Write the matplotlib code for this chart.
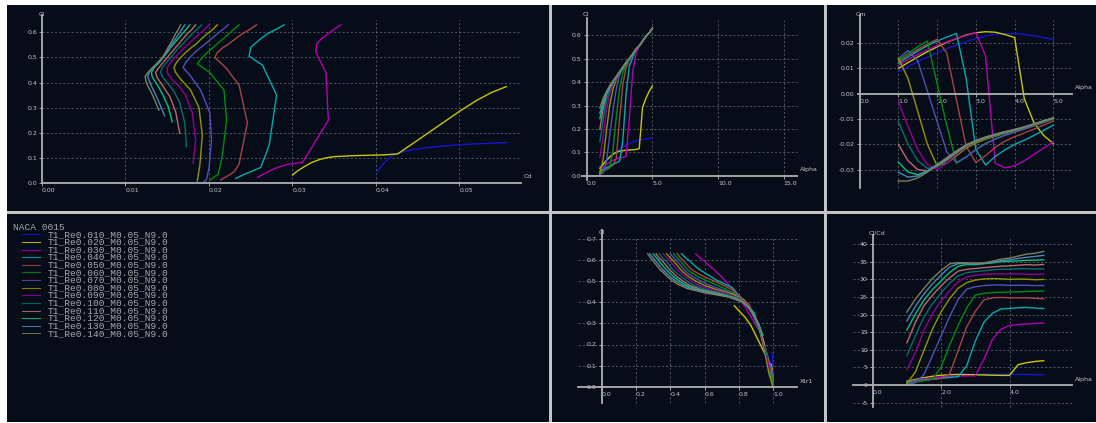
import matplotlib.pyplot as plt

W, H = 1096, 423

# ---- data (NACA 0015, 14 polars) ----
alpha = [1.0, 1.25, 1.5, 1.75, 2.0, 2.25, 2.5, 2.75, 3.0, 3.25, 3.5, 3.75, 4.0, 4.25, 4.5, 4.75, 5.0]

polar_names = ['T1_Re0.010_M0.05_N9.0', 'T1_Re0.020_M0.05_N9.0', 'T1_Re0.030_M0.05_N9.0',
               'T1_Re0.040_M0.05_N9.0', 'T1_Re0.050_M0.05_N9.0', 'T1_Re0.060_M0.05_N9.0',
               'T1_Re0.070_M0.05_N9.0', 'T1_Re0.080_M0.05_N9.0', 'T1_Re0.090_M0.05_N9.0',
               'T1_Re0.100_M0.05_N9.0', 'T1_Re0.110_M0.05_N9.0', 'T1_Re0.120_M0.05_N9.0',
               'T1_Re0.130_M0.05_N9.0', 'T1_Re0.140_M0.05_N9.0']

colors = ['#1414d2', '#c8c800', '#b400b4', '#00acac', '#a84444', '#008c10', '#5050b8',
          '#949400', '#940094', '#007070', '#bc6a6a', '#00c47c', '#4a86bc', '#80805a']

cl = [
    [0.0385, 0.052, 0.065, 0.078, 0.090, 0.102, 0.112, 0.122, 0.131, 0.138, 0.144, 0.148, 0.152, 0.155, 0.157, 0.159, 0.161],
    [0.032, 0.048, 0.065, 0.080, 0.092, 0.100, 0.105, 0.107, 0.109, 0.110, 0.111, 0.112, 0.116, 0.290, 0.330, 0.360, 0.384],
    [0.022, 0.035, 0.047, 0.058, 0.066, 0.072, 0.076, 0.079, 0.082, 0.250, 0.440, 0.520, 0.555, 0.575, 0.595, 0.610, 0.630],
    [0.018, 0.026, 0.034, 0.041, 0.048, 0.055, 0.062, 0.150, 0.350, 0.470, 0.505, 0.540, 0.555, 0.575, 0.595, 0.610, 0.630],
    [0.012, 0.020, 0.028, 0.036, 0.044, 0.075, 0.240, 0.390, 0.460, 0.500, 0.520, 0.540, 0.555, 0.575, 0.595, 0.610, 0.630],
    [0.010, 0.018, 0.026, 0.034, 0.110, 0.250, 0.370, 0.440, 0.475, 0.500, 0.520, 0.540, 0.555, 0.575, 0.595, 0.610, 0.630],
    [0.005, 0.013, 0.060, 0.170, 0.280, 0.370, 0.430, 0.460, 0.480, 0.500, 0.520, 0.540, 0.555, 0.575, 0.595, 0.610, 0.630],
    [0.008, 0.070, 0.190, 0.300, 0.370, 0.410, 0.440, 0.460, 0.480, 0.500, 0.520, 0.540, 0.555, 0.575, 0.595, 0.610, 0.630],
    [0.078, 0.170, 0.280, 0.350, 0.390, 0.415, 0.440, 0.460, 0.480, 0.500, 0.520, 0.540, 0.555, 0.575, 0.595, 0.610, 0.630],
    [0.145, 0.240, 0.320, 0.365, 0.395, 0.420, 0.440, 0.460, 0.480, 0.500, 0.520, 0.540, 0.555, 0.575, 0.595, 0.610, 0.630],
    [0.198, 0.285, 0.345, 0.375, 0.400, 0.420, 0.440, 0.460, 0.480, 0.500, 0.520, 0.540, 0.555, 0.575, 0.595, 0.610, 0.630],
    [0.244, 0.305, 0.350, 0.380, 0.402, 0.422, 0.442, 0.462, 0.482, 0.500, 0.520, 0.540, 0.555, 0.575, 0.595, 0.610, 0.630],
    [0.267, 0.315, 0.352, 0.380, 0.403, 0.424, 0.445, 0.465, 0.485, 0.500, 0.520, 0.540, 0.555, 0.575, 0.595, 0.610, 0.630],
    [0.290, 0.330, 0.360, 0.385, 0.405, 0.425, 0.445, 0.465, 0.485, 0.500, 0.520, 0.540, 0.555, 0.575, 0.595, 0.610, 0.630],
]

cd = [
    [0.0401, 0.0403, 0.0406, 0.0409, 0.0413, 0.0417, 0.0421, 0.0430, 0.0441, 0.0455, 0.0470, 0.0484, 0.0499, 0.0513, 0.0527, 0.0541, 0.0556],
    [0.0300, 0.0306, 0.0314, 0.0322, 0.0331, 0.0340, 0.0350, 0.0362, 0.0374, 0.0386, 0.0398, 0.0410, 0.0426, 0.0502, 0.0521, 0.0538, 0.0556],
    [0.0258, 0.0265, 0.0272, 0.0279, 0.0286, 0.0292, 0.0298, 0.0305, 0.0312, 0.0343, 0.0340, 0.0328, 0.0329, 0.0335, 0.0343, 0.0349, 0.0358],
    [0.0232, 0.0237, 0.0242, 0.0247, 0.0252, 0.0257, 0.0262, 0.0272, 0.0281, 0.0264, 0.0248, 0.0250, 0.0255, 0.0262, 0.0270, 0.0279, 0.0290],
    [0.0214, 0.0218, 0.0222, 0.0226, 0.0230, 0.0236, 0.0246, 0.0236, 0.0220, 0.0207, 0.0210, 0.0217, 0.0224, 0.0232, 0.0240, 0.0248, 0.0257],
    [0.0201, 0.0204, 0.0207, 0.0211, 0.0216, 0.0221, 0.0218, 0.0201, 0.0186, 0.0192, 0.0198, 0.0205, 0.0210, 0.0217, 0.0224, 0.0229, 0.0236],
    [0.0194, 0.0197, 0.0200, 0.0203, 0.0201, 0.0190, 0.0177, 0.0169, 0.0172, 0.0177, 0.0183, 0.0190, 0.0196, 0.0203, 0.0210, 0.0216, 0.0223],
    [0.0186, 0.0189, 0.0192, 0.0188, 0.0178, 0.0167, 0.0160, 0.0158, 0.0161, 0.0166, 0.0172, 0.0179, 0.0185, 0.0191, 0.0198, 0.0204, 0.0210],
    [0.0181, 0.0184, 0.0180, 0.0172, 0.0163, 0.0155, 0.0150, 0.0150, 0.0154, 0.0159, 0.0165, 0.0171, 0.0176, 0.0182, 0.0189, 0.0194, 0.0200],
    [0.0173, 0.0171, 0.0165, 0.0158, 0.0151, 0.0145, 0.0142, 0.0144, 0.0149, 0.0154, 0.0159, 0.0164, 0.0169, 0.0174, 0.0180, 0.0185, 0.0191],
    [0.0165, 0.0160, 0.0153, 0.0147, 0.0142, 0.0138, 0.0136, 0.0140, 0.0145, 0.0150, 0.0155, 0.0160, 0.0164, 0.0169, 0.0174, 0.0179, 0.0184],
    [0.0156, 0.0151, 0.0145, 0.0140, 0.0136, 0.0132, 0.0131, 0.0135, 0.0141, 0.0145, 0.0150, 0.0154, 0.0158, 0.0163, 0.0168, 0.0172, 0.0177],
    [0.0147, 0.0141, 0.0136, 0.0132, 0.0129, 0.01265, 0.0129, 0.0135, 0.0141, 0.0145, 0.0149, 0.0153, 0.0156, 0.0160, 0.0164, 0.0167, 0.0171],
    [0.0140, 0.0135, 0.0131, 0.0127, 0.01245, 0.01235, 0.0128, 0.0134, 0.0140, 0.0144, 0.0148, 0.0151, 0.0154, 0.0157, 0.0160, 0.0163, 0.0166],
]

cm = [
    [0.0087, 0.0107, 0.0126, 0.0145, 0.0162, 0.0178, 0.0192, 0.0206, 0.0218, 0.0228, 0.0235, 0.0238, 0.0237, 0.0234, 0.0229, 0.0222, 0.0214],
    [0.0100, 0.0123, 0.0145, 0.0166, 0.0185, 0.0203, 0.0218, 0.0232, 0.0241, 0.0245, 0.0243, 0.0234, 0.0222, -0.0020, -0.0115, -0.0165, -0.0197],
    [0.0112, 0.0135, 0.0155, 0.0173, 0.0190, 0.0205, 0.0218, 0.0230, 0.0241, 0.0150, -0.0275, -0.0293, -0.0285, -0.0265, -0.0240, -0.0215, -0.0190],
    [0.0120, 0.0145, 0.0168, 0.0190, 0.0208, 0.0224, 0.0238, 0.0060, -0.0220, -0.0282, -0.0248, -0.0222, -0.0200, -0.0184, -0.0165, -0.0145, -0.0124],
    [0.0128, 0.0152, 0.0175, 0.0196, 0.0215, 0.0160, -0.0025, -0.0208, -0.0272, -0.0245, -0.0212, -0.0188, -0.0170, -0.0155, -0.0140, -0.0124, -0.0108],
    [0.0134, 0.0160, 0.0185, 0.0208, 0.0040, -0.0125, -0.0275, -0.0250, -0.0220, -0.0196, -0.0178, -0.0164, -0.0152, -0.0140, -0.0127, -0.0114, -0.0100],
    [0.0140, 0.0170, 0.0130, 0.0010, -0.0110, -0.0230, -0.0272, -0.0250, -0.0222, -0.0198, -0.0180, -0.0165, -0.0152, -0.0140, -0.0126, -0.0112, -0.0098],
    [0.0140, 0.0060, -0.0070, -0.0200, -0.0285, -0.0275, -0.0245, -0.0215, -0.0195, -0.0180, -0.0168, -0.0157, -0.0147, -0.0136, -0.0124, -0.0111, -0.0098],
    [-0.0030, -0.0130, -0.0220, -0.0280, -0.0300, -0.0275, -0.0240, -0.0210, -0.0190, -0.0176, -0.0165, -0.0155, -0.0146, -0.0135, -0.0123, -0.0110, -0.0097],
    [-0.0110, -0.0200, -0.0265, -0.0295, -0.0290, -0.0265, -0.0235, -0.0208, -0.0189, -0.0175, -0.0164, -0.0154, -0.0145, -0.0134, -0.0122, -0.0109, -0.0096],
    [-0.0200, -0.0265, -0.0300, -0.0305, -0.0285, -0.0260, -0.0232, -0.0206, -0.0188, -0.0174, -0.0163, -0.0153, -0.0144, -0.0133, -0.0121, -0.0108, -0.0096],
    [-0.0270, -0.0310, -0.0320, -0.0305, -0.0282, -0.0256, -0.0229, -0.0204, -0.0186, -0.0173, -0.0162, -0.0152, -0.0143, -0.0132, -0.0120, -0.0108, -0.0096],
    [-0.0310, -0.0330, -0.0325, -0.0305, -0.0280, -0.0253, -0.0226, -0.0202, -0.0185, -0.0172, -0.0161, -0.0151, -0.0142, -0.0132, -0.0120, -0.0108, -0.0096],
    [-0.0345, -0.0345, -0.0333, -0.0310, -0.0283, -0.0255, -0.0227, -0.0203, -0.0185, -0.0171, -0.0160, -0.0150, -0.0141, -0.0131, -0.0119, -0.0107, -0.0096],
]

xtr = [
    [1.000, 1.000, 0.999, 0.999, 0.998, 0.998, 0.997, 0.997, 0.996, 0.996, 0.995, 0.995, 0.994, 0.994, 0.993, 0.993, 0.992],
    [0.999, 0.998, 0.996, 0.994, 0.992, 0.990, 0.988, 0.986, 0.984, 0.982, 0.980, 0.978, 0.976, 0.870, 0.835, 0.800, 0.773],
    [0.999, 0.998, 0.997, 0.996, 0.995, 0.994, 0.993, 0.992, 0.991, 0.930, 0.790, 0.700, 0.655, 0.625, 0.600, 0.575, 0.548],
    [0.999, 0.998, 0.997, 0.996, 0.995, 0.994, 0.993, 0.965, 0.890, 0.760, 0.670, 0.600, 0.570, 0.540, 0.515, 0.490, 0.466],
    [0.998, 0.997, 0.996, 0.995, 0.994, 0.985, 0.935, 0.860, 0.760, 0.660, 0.600, 0.555, 0.525, 0.500, 0.480, 0.460, 0.440],
    [0.998, 0.997, 0.996, 0.995, 0.970, 0.930, 0.865, 0.780, 0.690, 0.620, 0.565, 0.525, 0.500, 0.480, 0.460, 0.440, 0.420],
    [0.998, 0.995, 0.975, 0.950, 0.920, 0.865, 0.800, 0.700, 0.630, 0.580, 0.535, 0.500, 0.480, 0.460, 0.440, 0.420, 0.400],
    [0.995, 0.975, 0.945, 0.910, 0.865, 0.830, 0.760, 0.670, 0.600, 0.550, 0.510, 0.480, 0.460, 0.440, 0.420, 0.400, 0.378],
    [0.980, 0.955, 0.920, 0.880, 0.850, 0.810, 0.740, 0.640, 0.570, 0.525, 0.490, 0.460, 0.440, 0.420, 0.400, 0.380, 0.360],
    [0.965, 0.935, 0.900, 0.870, 0.840, 0.795, 0.720, 0.610, 0.540, 0.500, 0.465, 0.435, 0.415, 0.395, 0.375, 0.355, 0.336],
    [0.950, 0.920, 0.885, 0.860, 0.830, 0.780, 0.690, 0.580, 0.515, 0.475, 0.440, 0.415, 0.395, 0.375, 0.355, 0.335, 0.317],
    [0.940, 0.910, 0.880, 0.855, 0.820, 0.765, 0.660, 0.550, 0.490, 0.455, 0.420, 0.395, 0.375, 0.355, 0.335, 0.320, 0.300],
    [0.930, 0.900, 0.875, 0.850, 0.815, 0.750, 0.630, 0.520, 0.465, 0.435, 0.400, 0.375, 0.355, 0.335, 0.315, 0.300, 0.280],
    [0.920, 0.895, 0.870, 0.845, 0.810, 0.740, 0.600, 0.500, 0.445, 0.415, 0.385, 0.360, 0.340, 0.320, 0.300, 0.285, 0.268],
]

# ---- look ----
PANEL = '#060d19'
SEP = '#c4c4c4'
AXC = '#b0b0b0'
GRIDC = '#5c636c'
TXT = '#c8c8c8'
FS = 4.5

fig = plt.figure(figsize=(W / 100, H / 100), dpi=100)
fig.patch.set_facecolor('white')


def px_axes(x0, y0, x1, y1, color):
    ax = fig.add_axes([x0 / W, 1 - y1 / H, (x1 - x0) / W, (y1 - y0) / H])
    ax.set_facecolor(color)
    for s in ax.spines.values():
        s.set_visible(False)
    ax.set_xticks([])
    ax.set_yticks([])
    return ax


def graph(box, ox, sx, oy, sy, xspan, yspan, gxspan, gyspan,
          xticks, yticks, xfmt, yfmt, xname, xname_at, yname, yname_at):
    ax = px_axes(*box, PANEL)
    x0, y0, x1, y1 = box
    ax.set_xlim((x0 - ox) / sx, (x1 - ox) / sx)
    ax.set_ylim((oy - y1) / sy, (oy - y0) / sy)

    # axes through the origin
    for side in ('left', 'bottom'):
        sp = ax.spines[side]
        sp.set_visible(True)
        sp.set_position(('data', 0))
        sp.set_color(AXC)
        sp.set_linewidth(1.3)
    ax.spines['bottom'].set_bounds(*xspan)
    ax.spines['left'].set_bounds(*yspan)

    ax.set_xticks(xticks)
    ax.set_xticklabels([xfmt % t for t in xticks])
    ax.set_yticks(yticks)
    ax.set_yticklabels([yfmt % t for t in yticks])
    ax.tick_params(colors=AXC, labelcolor=TXT, labelsize=FS, length=2, width=0.6, pad=1.5)
    plt.setp(ax.get_xticklabels(), ha='left')

    # dashed grid, only inside the plotted range
    gx = [t for t in xticks if t != 0]
    gy = [t for t in yticks if t != 0]
    ax.vlines(gx, gyspan[0], gyspan[1], colors=GRIDC, linestyles=(0, (2.5, 2.5)), lw=0.6, zorder=0)
    ax.hlines(gy, gxspan[0], gxspan[1], colors=GRIDC, linestyles=(0, (2.5, 2.5)), lw=0.6, zorder=0)

    fig.text(xname_at[0] / W, 1 - xname_at[1] / H, xname, color=TXT, fontsize=FS, ha='center', va='center')
    fig.text(yname_at[0] / W, 1 - yname_at[1] / H, yname, color=TXT, fontsize=FS, ha='center', va='center')
    return ax


# separators
px_axes(7, 5, 1096, 422, SEP)

ax_polar = graph((7, 5, 549, 211), 42, 8350, 183, 251,
                 (0, 0.0574), (0, 0.669), (0, 0.0574), (0, 0.65),
                 [0, 0.01, 0.02, 0.03, 0.04, 0.05], [0, 0.1, 0.2, 0.3, 0.4, 0.5, 0.6],
                 '%.2f', '%.1f', 'Cd', (528, 176), 'Cl', (42, 14))

ax_lift = graph((552, 5, 824, 211), 586.7, 13.13, 175.7, 233.9,
                (-0.38, 16.0), (-0.018, 0.673), (0, 16.0), (0, 0.666),
                [0, 5, 10, 15], [0, 0.1, 0.2, 0.3, 0.4, 0.5, 0.6],
                '%.1f', '%.1f', 'Alpha', (809, 169), 'Cl', (586, 14))

ax_mom = graph((827, 5, 1096, 211), 859.6, 38.75, 93.7, 2530,
               (-0.05, 5.47), (-0.0374, 0.0311), (0, 5.47), (-0.0374, 0.0291),
               [0, 1, 2, 3, 4, 5], [-0.03, -0.02, -0.01, 0.0, 0.01, 0.02],
               '%.1f', '%.2f', 'Alpha', (1084, 87), 'Cm', (861, 15))

ax_xtr = graph((552, 214, 824, 422), 601.7, 171.5, 386.7, 211,
               (-0.136, 1.137), (-0.079, 0.742), (-0.136, 1.137), (-0.079, 0.711),
               [0, 0.2, 0.4, 0.6, 0.8, 1.0], [0, 0.1, 0.2, 0.3, 0.4, 0.5, 0.6, 0.7],
               '%.1f', '%.1f', 'Xtr1', (806, 381), 'Cl', (602, 232))

ax_fin = graph((827, 214, 1096, 422), 872.7, 34.2, 385, 3.52,
               (-0.57, 5.82), (-6.2, 42.6), (-0.57, 5.82), (-6.2, 42.2),
               [0, 2, 4], [-5, 0, 5, 10, 15, 20, 25, 30, 35, 40],
               '%.1f', '%d', 'Alpha', (1084, 379), 'Cl/Cd', (877, 233))

for i in range(len(polar_names)):
    c = colors[i]
    fin = [l / d for l, d in zip(cl[i], cd[i])]
    ax_polar.plot(cd[i], cl[i], color=c, lw=1)
    ax_lift.plot(alpha, cl[i], color=c, lw=1)
    ax_mom.plot(alpha, cm[i], color=c, lw=1)
    ax_xtr.plot(xtr[i], cl[i], color=c, lw=1)
    ax_fin.plot(alpha, fin, color=c, lw=1)

# legend panel (pixel coordinates)
ax_leg = px_axes(7, 214, 549, 422, PANEL)
ax_leg.set_xlim(7, 549)
ax_leg.set_ylim(422, 214)
mono = ['Liberation Mono', 'DejaVu Sans Mono']
ax_leg.text(13, 227, 'NACA 0015', family=mono, fontsize=6.8, color='#a8a8a8', va='center')
for i, name in enumerate(polar_names):
    y = 234.3 + i * 7.62
    ax_leg.plot([22, 40], [y, y], color=colors[i], lw=0.8, alpha=0.85)
    ax_leg.text(48, y, name, family=mono, fontsize=6.8, color='#a8a8a8', va='center')

fig.savefig('out.png', dpi=100, facecolor=fig.get_facecolor())
